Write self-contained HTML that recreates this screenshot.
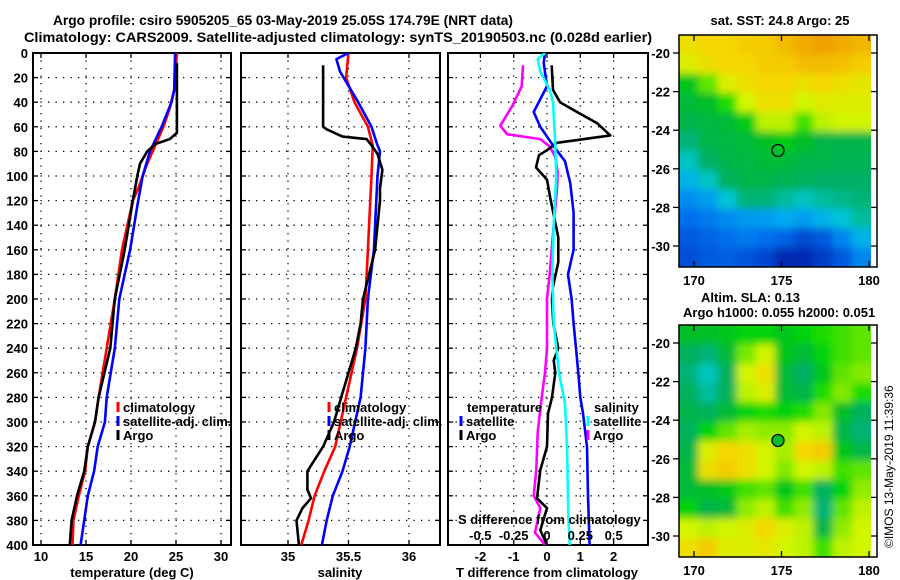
<!DOCTYPE html>
<html><head><meta charset="utf-8"><style>
html,body{margin:0;padding:0;background:#fff;}
svg{display:block;font-family:"Liberation Sans",Arial,sans-serif;font-weight:bold;}
text{fill:#000;}
</style></head><body>
<svg id="c" width="900" height="580" viewBox="0 0 900 580" xmlns="http://www.w3.org/2000/svg">
<defs>
<clipPath id="cp1"><rect x="33" y="53" width="198" height="492"/></clipPath>
<clipPath id="cp2"><rect x="241" y="53" width="199" height="492"/></clipPath>
<clipPath id="cp3"><rect x="448" y="53" width="200" height="492"/></clipPath>
<clipPath id="cpm1"><rect x="679" y="35" width="192" height="232"/></clipPath>
<clipPath id="cpm2"><rect x="679" y="325" width="192" height="232"/></clipPath>
<filter id="bl" x="-5%" y="-5%" width="110%" height="110%"><feGaussianBlur stdDeviation="4"/></filter>
<filter id="bl2" x="-5%" y="-5%" width="110%" height="110%"><feGaussianBlur stdDeviation="4"/></filter>
</defs>
<text x="283" y="25" font-size="14" text-anchor="middle" textLength="460" lengthAdjust="spacingAndGlyphs">Argo profile: csiro 5905205_65 03-May-2019 25.05S 174.79E (NRT data)</text>
<text x="338" y="42" font-size="14" text-anchor="middle" textLength="628" lengthAdjust="spacingAndGlyphs">Climatology: CARS2009. Satellite-adjusted climatology: synTS_20190503.nc (0.028d earlier)</text>
<g id="g"></g>
<text transform="translate(893,548) rotate(-90)" font-size="12" style="font-weight:normal">©IMOS 13-May-2019 11:39:36</text>
</svg>
<script>
// ---------- data ----------
const depthTicks=[0,20,40,60,80,100,120,140,160,180,200,220,240,260,280,300,320,340,360,380,400];
const tTicks=[10,15,20,25,30];
const sTicks=[35,35.5,36];
const dTicks=[-2,-1,0,1,2];
const sdTicks=[-0.5,-0.25,0,0.25,0.5];
const sdTickLabels=['-0.5','-0.25','0','0.25','0.5'];
// temperature panel
const tClimDepth=[0,30,45,60,75,90,110,120,160,200,240,280,300,320,340,360,380,400];
const tClimVal=[25.1,24.8,24.3,23.6,22.7,21.8,20.8,20.2,19.0,18.2,17.3,16.4,16.0,15.2,14.9,14.2,13.6,13.5];
const tSatDepth=[0,30,40,60,80,100,120,160,200,240,280,300,320,340,360,380,400];
const tSatVal=[24.9,24.8,24.5,23.4,22.1,21.3,20.8,19.9,18.7,18.2,17.3,17.1,16.3,15.9,15.2,14.8,14.4];
const tArgoDepth=[8,65,70,74,80,90,100,120,160,200,240,280,300,320,340,360,380,400];
const tArgoVal=[25.1,25.1,24.3,22.7,21.8,21.0,20.7,20.2,19.3,18.2,17.7,16.4,16.0,15.2,14.8,14.0,13.4,13.2];
// salinity panel
const sClimDepth=[0,20,40,60,75,100,120,160,200,240,280,320,340,360,380,400];
const sClimVal=[35.5,35.48,35.55,35.66,35.70,35.69,35.68,35.66,35.64,35.57,35.48,35.39,35.30,35.22,35.17,35.11];
const sSatDepth=[0,5,15,25,40,60,75,80,100,120,160,200,240,280,320,340,360,380,400];
const sSatVal=[35.5,35.4,35.43,35.49,35.58,35.69,35.74,35.76,35.74,35.73,35.71,35.66,35.64,35.6,35.51,35.45,35.37,35.32,35.28];
const sArgoDepth=[10,60,62,68,70,75,82,95,110,120,160,200,220,240,260,280,300,320,340,355,362,370,380,400];
const sArgoVal=[35.29,35.29,35.32,35.45,35.65,35.69,35.74,35.78,35.76,35.76,35.72,35.62,35.6,35.56,35.5,35.44,35.38,35.29,35.16,35.16,35.19,35.12,35.07,35.09];
// difference panel
const dTArgoDepth=[10,30,40,48,57,67,73,79,83,93,103,118,130,150,170,190,200,220,240,250,260,280,293,320,339,362,370,388,400];
const dTArgoVal=[0.14,0.18,0.39,0.9,1.5,1.9,0.3,0,-0.24,-0.33,0,0.1,0.19,0.34,0.34,0.18,0.15,0.19,0.34,0.2,0.25,0.15,0.03,0,-0.2,-0.3,0,-0.2,0];
const dTSatDepth=[0,8,27,48,60,75,88,106,130,160,180,200,220,240,260,280,293,320,360,400];
const dTSatVal=[-0.06,-0.1,0,-0.4,-0.2,0.18,0.54,0.7,0.8,0.8,0.63,0.74,0.8,0.87,0.94,1.0,1.08,1.2,1.23,1.28];
const dSSatDepth=[0,5,15,30,40,70,100,140,180,220,260,285,320,375,400];
const dSSatVal=[-0.015,-0.07,-0.05,0.02,0.045,0.06,0.07,0.05,0.04,0.05,0.09,0.135,0.15,0.16,0.17];
const dSArgoDepth=[10,27,43,59,66,70,76,84,97,110,140,180,200,240,260,280,308,339,360,370,390,400];
const dSArgoVal=[-0.18,-0.19,-0.26,-0.35,-0.3,-0.05,0.02,0.06,0.08,0.075,0.05,0.02,0,0,-0.015,-0.04,-0.07,-0.08,-0.1,-0.05,-0.09,-0.015];
// maps
const mapLonTicks=[170,175,180];
const mapLatTicks=[-20,-22,-24,-26,-28,-30];
const argoLon=174.8, argoLat=-25.05;
const sstGrid=[
[0.78,0.8,0.8,0.82,0.82,0.85,0.88,0.9,0.88,0.86],
[0.74,0.78,0.8,0.8,0.82,0.82,0.85,0.85,0.84,0.82],
[0.52,0.62,0.74,0.78,0.8,0.8,0.78,0.8,0.78,0.76],
[0.48,0.5,0.58,0.72,0.78,0.78,0.72,0.75,0.74,0.74],
[0.46,0.47,0.48,0.53,0.7,0.7,0.6,0.7,0.72,0.72],
[0.42,0.46,0.47,0.48,0.5,0.53,0.5,0.46,0.46,0.46],
[0.38,0.43,0.46,0.47,0.48,0.48,0.46,0.46,0.45,0.45],
[0.32,0.38,0.44,0.46,0.46,0.45,0.44,0.43,0.43,0.43],
[0.25,0.28,0.36,0.42,0.42,0.4,0.38,0.4,0.41,0.42],
[0.2,0.22,0.25,0.27,0.28,0.3,0.28,0.32,0.36,0.4],
[0.16,0.18,0.2,0.22,0.2,0.18,0.13,0.16,0.24,0.32],
[0.14,0.16,0.17,0.15,0.12,0.06,0.06,0.1,0.16,0.24]];
const slaGrid=[
[0.5,0.5,0.52,0.55,0.55,0.52,0.55,0.58,0.6,0.62],
[0.44,0.42,0.48,0.64,0.72,0.52,0.48,0.55,0.6,0.62],
[0.42,0.38,0.44,0.72,0.78,0.48,0.43,0.52,0.62,0.65],
[0.44,0.4,0.44,0.7,0.74,0.48,0.46,0.58,0.65,0.58],
[0.46,0.44,0.48,0.55,0.58,0.55,0.58,0.65,0.5,0.44],
[0.44,0.55,0.62,0.68,0.66,0.66,0.72,0.7,0.46,0.42],
[0.46,0.74,0.8,0.78,0.72,0.68,0.8,0.82,0.52,0.46],
[0.48,0.78,0.82,0.78,0.72,0.65,0.72,0.7,0.6,0.62],
[0.48,0.5,0.53,0.6,0.62,0.52,0.6,0.44,0.55,0.66],
[0.55,0.46,0.48,0.66,0.7,0.6,0.66,0.42,0.62,0.7],
[0.72,0.7,0.72,0.74,0.8,0.74,0.7,0.46,0.66,0.72],
[0.78,0.82,0.74,0.74,0.76,0.72,0.7,0.6,0.7,0.72]];

// ---------- helpers ----------
const NS='http://www.w3.org/2000/svg';
const G=document.getElementById('g');
function mk(tag,attrs,parent){const e=document.createElementNS(NS,tag);for(const k in attrs)e.setAttribute(k,attrs[k]);(parent||G).appendChild(e);return e;}
const yD=d=>53+d*1.23;
const xT=t=>41+(t-10)*9;
const xS=s=>288+(s-35)*121;
const xDT=v=>547+v*33.3;
const xDS=v=>547+v*133.3;
const mLon=l=>694+(l-170)*17.5;
const mLat1=l=>53+(-20-l)*19.3;
const mLat2=l=>343+(-20-l)*19.3;

function panel(x0,x1,xs,ticks,name){
  const grp=mk('g',{});
  
  
  depthTicks.forEach(d=>{if(d>0&&d<400){const l=mk('line',{x1:x0,x2:x1,y1:yD(d),y2:yD(d),stroke:'#000','stroke-width':1.3,'stroke-dasharray':'1.3,6.2'},grp);}
    mk('line',{x1:x0,x2:x0+5,y1:yD(d),y2:yD(d),stroke:'#000','stroke-width':1.3},grp);
    mk('line',{x1:x1-5,x2:x1,y1:yD(d),y2:yD(d),stroke:'#000','stroke-width':1.3},grp);});
  ticks.forEach(t=>{const x=xs(t);const l=mk('line',{x1:x,x2:x,y1:53,y2:545,stroke:'#000','stroke-width':1.3,'stroke-dasharray':'1.3,6.2'},grp);
    mk('line',{x1:x,x2:x,y1:53,y2:58,stroke:'#000','stroke-width':1.3},grp);mk('line',{x1:x,x2:x,y1:540,y2:545,stroke:'#000','stroke-width':1.3},grp);});
  const r=mk('rect',{x:x0,y:53,width:x1-x0,height:492,fill:'none',stroke:'#000','stroke-width':2},grp);
  
  return grp;
}
function line(ds,vs,xs,color,clip,name,w){
  const pts=ds.map((d,i)=>xs(vs[i]).toFixed(1)+','+yD(d).toFixed(1)).join(' ');
  const p=mk('polyline',{points:pts,fill:'none',stroke:color,'stroke-width':w||2.6,'clip-path':'url(#'+clip+')','stroke-linejoin':'round'});
  
  
}
function txt(x,y,s,opts){const t=mk('text',Object.assign({x:x,y:y,'font-size':13},opts||{}));t.textContent=s;return t;}
function legend(x,y,color,label,name){
  const b=mk('line',{x1:x,x2:x,y1:y-10,y2:y,stroke:color,'stroke-width':3});
  
  if(label){const t=txt(x+5,y,label);}
}

depthTicks.forEach(d=>{const t=txt(28,yD(d)+5,String(d),{'text-anchor':'end'});});

// panel 1
panel(33,231,xT,tTicks,'temperature-panel');
tTicks.forEach(v=>{const t=txt(xT(v),561,String(v),{'text-anchor':'middle'});});
let at=txt(132,577,'temperature (deg C)',{'text-anchor':'middle'});
line(tClimDepth,tClimVal,xT,'#f00','cp1','temp-climatology-line');
line(tSatDepth,tSatVal,xT,'#00f','cp1','temp-satellite-line');
line(tArgoDepth,tArgoVal,xT,'#000','cp1','temp-argo-line');
legend(118,412,'#f00','climatology','legend-climatology');
legend(118,426,'#00f','satellite-adj. clim.','legend-satellite-adj');
legend(118,440,'#000','Argo','legend-argo');

// panel 2
panel(241,440,xS,sTicks,'salinity-panel');
sTicks.forEach(v=>{const t=txt(xS(v),561,String(v),{'text-anchor':'middle'});});
at=txt(340,577,'salinity',{'text-anchor':'middle'});
line(sClimDepth,sClimVal,xS,'#f00','cp2','sal-climatology-line');
line(sSatDepth,sSatVal,xS,'#00f','cp2','sal-satellite-line');
line(sArgoDepth,sArgoVal,xS,'#000','cp2','sal-argo-line');
legend(329,412,'#f00','climatology','legend-climatology-2');
legend(329,426,'#00f','satellite-adj. clim.','legend-satellite-adj-2');
legend(329,440,'#000','Argo','legend-argo-2');

// panel 3
panel(448,648,xDT,dTicks,'difference-panel');
dTicks.forEach(v=>{const t=txt(xDT(v),561,String(v),{'text-anchor':'middle'});});
at=txt(547,577,'T difference from climatology',{'text-anchor':'middle'});
line(dSArgoDepth,dSArgoVal,xDS,'#f0f','cp3','sdiff-argo-line');
line(dTArgoDepth,dTArgoVal,xDT,'#000','cp3','tdiff-argo-line');
line(dTSatDepth,dTSatVal,xDT,'#00f','cp3','tdiff-satellite-line');
line(dSSatDepth,dSSatVal,xDS,'#0ff','cp3','sdiff-satellite-line');
at=txt(467,412,'temperature');
legend(461,426,'#00f','satellite','legend-temp-satellite');
legend(461,440,'#000','Argo','legend-temp-argo');
at=txt(594,412,'salinity');
legend(588,426,'#0ff','satellite','legend-sal-satellite');
legend(588,440,'#f0f','Argo','legend-sal-argo');
at=txt(458,524,'S difference from climatology');
sdTicks.forEach((v,i)=>{const t=txt(xDS(v),540,sdTickLabels[i],{'text-anchor':'middle'});});

// colormap
const cstops=[[0,[0,20,140]],[0.1,[0,60,200]],[0.2,[0,110,235]],[0.3,[0,170,240]],[0.37,[0,200,210]],[0.43,[0,175,100]],[0.5,[0,190,40]],[0.56,[0,215,0]],[0.63,[110,230,0]],[0.72,[210,245,0]],[0.8,[245,215,0]],[0.9,[240,160,0]],[1,[230,110,0]]];
function cmap(v){for(let i=1;i<cstops.length;i++){if(v<=cstops[i][0]){const a=cstops[i-1],b=cstops[i];const f=(v-a[0])/(b[0]-a[0]);const c=a[1].map((x,k)=>Math.round(x+(b[1][k]-x)*f));return 'rgb('+c.join(',')+')';}}return 'rgb(230,110,0)';}

function map(grid,top,clip,latf,name,filled,blur){
  const grp=mk('g',{'clip-path':'url(#'+clip+')'});
  
  const inner=mk('g',{filter:'url(#'+blur+')'},grp);
  const rows=grid.length,cols=grid[0].length,cw=192/cols,ch=232/rows;
  grid.forEach((row,r)=>row.forEach((v,c)=>{
    const x0=679+c*cw-(c===0?12:0),y0=top+r*ch-(r===0?12:0);
    const w=cw+(c===0?12:0)+(c===cols-1?12:0)+0.5,h=ch+(r===0?12:0)+(r===rows-1?12:0)+0.5;
    const cell=mk('rect',{x:x0,y:y0,width:w,height:h,fill:cmap(v)},inner);
    
    
  }));
  mk('rect',{x:871,y:top,width:6,height:232,fill:'#fff'});
  const fr=mk('rect',{x:679,y:top,width:198,height:232,fill:'none',stroke:'#000','stroke-width':1.5});
  
  mapLatTicks.forEach(l=>{const y=latf(l);mk('line',{x1:871,x2:877,y1:y,y2:y,stroke:'#000','stroke-width':1.3});mk('line',{x1:673,x2:679,y1:y,y2:y,stroke:'#000','stroke-width':1.3});
    const t=txt(670,y+5,String(l),{'text-anchor':'end'});});
  mapLonTicks.forEach(l=>{const x=mLon(l);mk('line',{x1:x,x2:x,y1:top,y2:top+6,stroke:'#000','stroke-width':1.3});mk('line',{x1:x,x2:x,y1:top+226,y2:top+232,stroke:'#000','stroke-width':1.3});
    const t=txt(x,top+250,String(l),{'text-anchor':'middle'});});
  const c=mk('circle',{cx:mLon(argoLon),cy:latf(argoLat),r:6,fill:filled?cmap(0.5):'none',stroke:'#000','stroke-width':1.3});
  
}
map(sstGrid,35,'cpm1',mLat1,'sst-map',false,'bl2');
map(slaGrid,325,'cpm2',mLat2,'sla-map',true,'bl');
at=txt(780,25,'sat. SST: 24.8 Argo: 25',{'text-anchor':'middle'});
at=txt(701,302,'Altim. SLA: 0.13');
at=txt(683,317,'Argo h1000: 0.055 h2000: 0.051');
</script>
</body></html>
